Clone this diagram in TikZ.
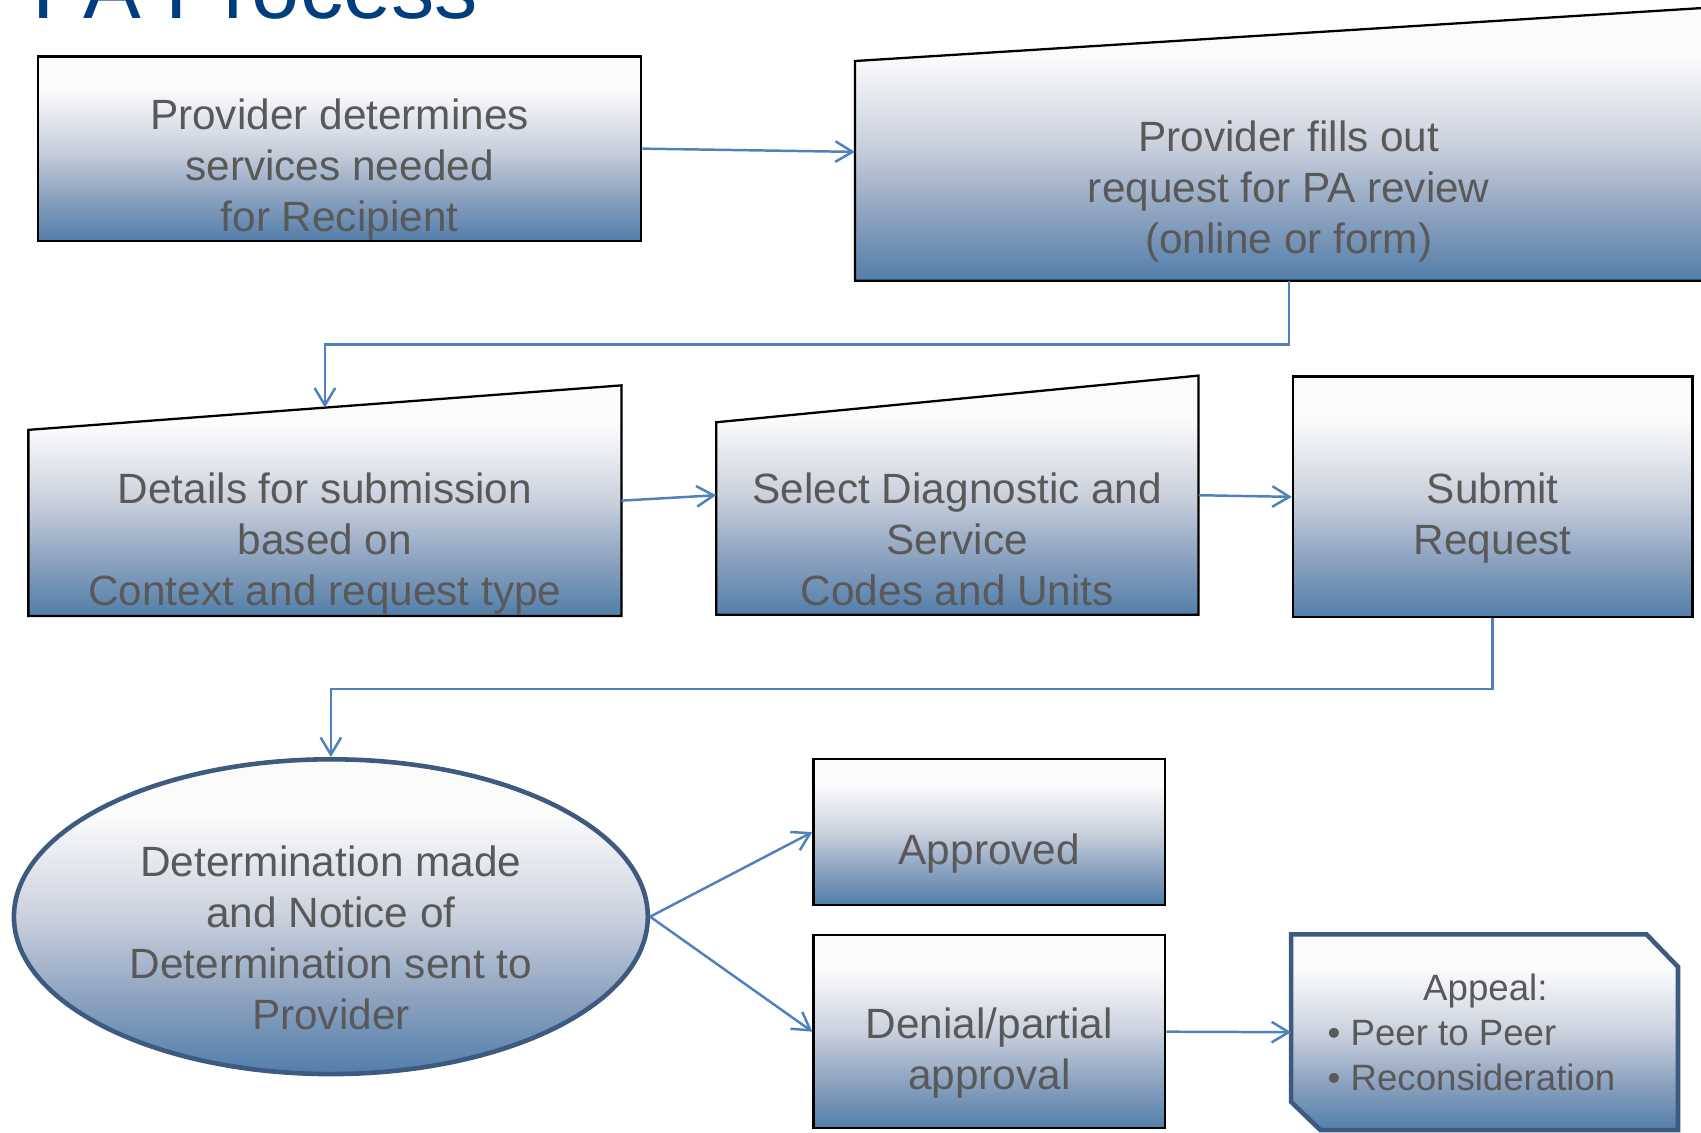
\documentclass[tikz,border=0pt]{standalone}
\usepackage{fontspec}
\setmainfont{Liberation Sans}
\usepackage{tikz}
\usetikzlibrary{shapes,arrows.meta,backgrounds}

\definecolor{bftop}{RGB}{251,251,252}
\definecolor{bfmid}{RGB}{202,209,221}
\definecolor{bflow}{RGB}{140,162,191}
\definecolor{bfbot}{RGB}{82,126,170}
\definecolor{txtgray}{RGB}{89,89,89}
\definecolor{linkblue}{RGB}{79,129,189}
\definecolor{edgeblue}{RGB}{61,90,128}
\definecolor{titleblue}{RGB}{0,62,126}

\pgfdeclareverticalshading{boxshade}{100bp}{color(0bp)=(bfbot); color(25bp)=(bfbot);
  color(37bp)=(bflow); color(50bp)=(bfmid); color(66bp)=(bftop); color(100bp)=(bftop)}

% pushes the lines of a node a little below its centre
\newcommand{\txtgap}{\rule[-.08cm]{0pt}{.75cm}}

\tikzset{
  grad/.style={shade, shading=boxshade},
  box/.style={grad, draw=black, line width=.6pt, inner sep=0pt},
  txt/.style={text=txtgray, align=center, inner sep=0pt,
    font=\fontsize{11.1}{13.4}\selectfont},
  link/.style={draw=linkblue, line width=.65pt, -{Straight Barb[length=4.5pt,width=5.4pt]}},
}

\begin{document}
\begin{tikzpicture}[x=0.01cm, y=-0.01cm]
\useasboundingbox (0,0) rectangle (1568,1044);
\clip (0,0) rectangle (1568,1044);

\node[font=\fontsize{22.7}{26}\selectfont, text=titleblue, anchor=base west, inner sep=0pt] (title) at (29,17) {PA Process};

% top row
\node[box, txt, minimum width=5.56cm, minimum height=1.70cm] (need) at (313,137) {\txtgap Provider determines\\ services needed\\ for Recipient};
\node[txt, minimum width=7.98cm, minimum height=2.01cm] (fill) at (1188,157.5) {\txtgap Provider fills out\\ request for PA review\\ (online or form)};

% middle row
\node[txt, minimum width=5.45cm, minimum height=1.70cm] (details) at (299.5,482) {\txtgap Details for submission\\ based on\\ Context and request type};
\node[txt, minimum width=4.43cm, minimum height=1.76cm] (codes) at (882.5,478) {\txtgap Select Diagnostic and\\ Service\\ Codes and Units};
\node[box, txt, minimum width=3.68cm, minimum height=2.22cm] (submit) at (1376,458) {\txtgap Submit\\ Request};

% bottom row
\node[ellipse, grad, draw=edgeblue, line width=1.2pt, txt, inner ysep=-.06cm, minimum width=5.84cm, minimum height=2.90cm] (determ) at (305,845) {\txtgap Determination made\\ and Notice of\\ Determination sent to\\ Provider};
\node[box, txt, minimum width=3.24cm, minimum height=1.34cm] (ok) at (912,767) {\txtgap Approved};
\node[box, txt, minimum width=3.24cm, minimum height=1.78cm] (deny) at (912,951) {\txtgap Denial/partial\\ approval};
\node[text=txtgray, align=left, inner sep=0pt, font=\fontsize{9.6}{11.8}\selectfont, minimum width=3.55cm, minimum height=1.79cm] (appeal) at (1368.5,951.5) {\hspace*{.88cm}Appeal:\\ \textbullet\ Peer to Peer\\ \textbullet\ Reconsideration\hspace*{.24cm}};

\begin{scope}[on background layer]
\path[box] (fill.south west) -- (fill.south east) -- ([yshift=.5cm]fill.north east) -- (fill.north west) -- cycle;
\path[box] (details.south west) -- (details.south east) -- ([yshift=.41cm]details.north east) -- (details.north west) -- cycle;
\path[box] (codes.south west) -- (codes.south east) -- ([yshift=.43cm]codes.north east) -- (codes.north west) -- cycle;
\path[grad, draw=edgeblue, line width=1.2pt] (appeal.north west) -- ([xshift=-.29cm]appeal.north east) -- ([yshift=-.30cm]appeal.north east) -- (appeal.south east) -- ([xshift=.27cm]appeal.south west) -- ([yshift=.26cm]appeal.south west) -- cycle;
\end{scope}

% connectors
\draw[link] (need.east) -- ([yshift=.175cm]fill.west);
\draw[link] (fill.south) -- ++(0,59) -| ([yshift=.205cm]details.north);
\draw[link] ([yshift=.205cm]details.east) -- ([yshift=.215cm]codes.west);
\draw[link] ([yshift=.215cm]codes.east) -- (submit.west);
\draw[link] (submit.south) -- ++(0,65) -| (determ.north);
\draw[link] (determ.east) -- (ok.west);
\draw[link] (determ.east) -- (deny.west);
\draw[link] (deny.east) -- (appeal.west);
\end{tikzpicture}
\end{document}
